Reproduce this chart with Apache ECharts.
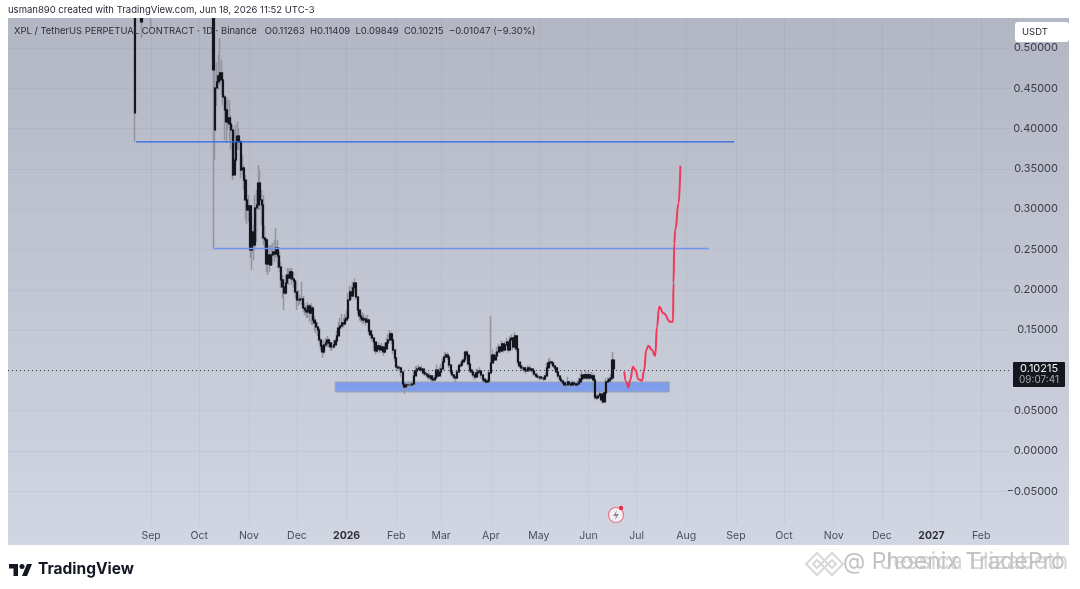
<!DOCTYPE html>
<html><head><meta charset="utf-8">
<style>html,body{margin:0;padding:0;background:#fff}#c{width:1080px;height:589px}</style>
<script src="https://cdn.jsdelivr.net/npm/echarts@6/dist/echarts.min.js"></script>
</head><body><div id="c"></div>
<script>
const FONT = 'Inter, "Noto Sans", sans-serif';
const headerText = 'usman890 created with TradingView.com, Jun 18, 2026 11:52 UTC-3';
const legendText = 'XPL / TetherUS PERPETUAL CONTRACT · 1D · Binance   O0.11263  H0.11409  L0.09849  C0.10215  −0.01047 (−9.30%)';
const monthTicks = ['2025-09-01','2025-10-01','2025-11-01','2025-12-01','2026-01-01','2026-02-01','2026-03-01','2026-04-01','2026-05-01','2026-06-01','2026-07-01','2026-08-01','2026-09-01','2026-10-01','2026-11-01','2026-12-01','2027-01-01','2027-02-01'];
const monthNames = ['Jan','Feb','Mar','Apr','May','Jun','Jul','Aug','Sep','Oct','Nov','Dec'];
const priceTicks = [-0.05,0,0.05,0.10,0.15,0.20,0.25,0.30,0.35,0.40,0.45,0.50];

// isolated candles before the main run
const earlyDates = ['2025-08-22','2025-08-26','2025-09-01'];
const earlyOpen  = [0.90,0.60,0.60];
const earlyHigh  = [0.95,0.62,0.70];
const earlyLow   = [0.3834,0.5124,0.5248];
const earlyClose = [0.4194,0.5323,0.5600];

// daily candles from 2025-10-10
const firstDay = '2025-10-10';
const firstOpen = 0.62;
const secondOpen = 0.3983;
const lastOpen = 0.11263;
const closes = [
.4727,.4504,.4578,.4653,.4690,.4603,.4392,.4231,.4082,.4132,
.4057,.3983,.3424,.3610,.3834,.3908,.3834,.3486,.3511,.3362,
.3114,.2990,.3040,.2494,.2717,.2556,.3015,.3052,.3325,.3114,
.3052,.2643,.2618,.2320,.2432,.2308,.2432,.2469,.2444,.2519,
.2419,.2283,.2122,.2035,.1960,.2084,.2184,.2146,.2221,.2134,
.2109,.1973,.1873,.1873,.1886,.1886,.1774,.1749,.1725,.1799,
.1712,.1774,.1625,.1588,.1538,.1501,.1377,.1303,.1228,.1315,
.1340,.1377,.1340,.1290,.1290,.1315,.1365,.1427,.1526,.1551,
.1588,.1576,.1625,.1650,.1873,.1973,.1923,.2022,.2084,.1911,
.1749,.1675,.1650,.1625,.1638,.1600,.1625,.1489,.1439,.1402,
.1352,.1241,.1266,.1303,.1253,.1290,.1228,.1266,.1340,.1377,
.1452,.1377,.1253,.1154,.1042,.1030,.1030,.0980,.0831,.0794,
.0819,.0819,.0819,.0819,.0831,.0931,.0993,.1017,.1030,.1005,
.1017,.0968,.0955,.0943,.0918,.0931,.0893,.0881,.0906,.1005,
.0931,.0980,.1017,.1104,.1166,.1191,.1166,.1067,.0980,.0943,
.0918,.0906,.0980,.1055,.1067,.1104,.1129,.1228,.1191,.1079,
.1005,.0980,.0943,.0918,.0968,.0980,.0993,.0943,.0893,.0869,
.0856,.0869,.0968,.1092,.1191,.1129,.1179,.1228,.1290,.1241,
.1328,.1253,.1315,.1352,.1253,.1377,.1402,.1290,.1427,.1266,
.1104,.1055,.1030,.1030,.1005,.0993,.1030,.1005,.1017,.0993,
.0955,.0931,.0918,.0918,.0906,.0906,.0893,.0931,.1030,.1092,
.1104,.1092,.1055,.1030,.0980,.0931,.0893,.0869,.0844,.0819,
.0819,.0856,.0831,.0819,.0844,.0831,.0819,.0831,.0856,.0893,
.0943,.0906,.0943,.0906,.0943,.0906,.0931,.0881,.0670,.0658,
.0682,.0707,.0633,.0608,.0720,.0856,.0869,.0893,.0906,.1129,
.10215];
const highs = [
.7000,.4851,.4826,.4913,.5124,.4851,.4702,.4417,.4355,.4380,
.4355,.4169,.4045,.3983,.4045,.4082,.4007,.3859,.3672,.3548,
.3424,.3238,.3176,.3052,.2928,.2804,.3176,.3238,.3548,.3486,
.3238,.3176,.2804,.2643,.2494,.2556,.2556,.2581,.2618,.2767,
.2618,.2469,.2345,.2184,.2122,.2184,.2270,.2270,.2270,.2270,
.2221,.2122,.2097,.1998,.1935,.2097,.1923,.1836,.1811,.1849,
.1824,.1836,.1799,.1675,.1625,.1600,.1526,.1402,.1315,.1377,
.1402,.1427,.1402,.1352,.1340,.1377,.1402,.1489,.1600,.1650,
.1700,.1650,.1700,.1750,.1960,.2050,.2050,.2100,.2140,.2030,
.1800,.1760,.1720,.1720,.1700,.1680,.1690,.1600,.1480,.1440,
.1400,.1320,.1320,.1350,.1310,.1340,.1300,.1340,.1400,.1450,
.1500,.1480,.1350,.1230,.1130,.1070,.1060,.1040,.0900,.0830,
.0850,.0845,.0850,.0860,.0870,.1000,.1050,.1060,.1070,.1050,
.1060,.1020,.1000,.0985,.0960,.0970,.0930,.0920,.0940,.1070,
.0990,.1040,.1080,.1150,.1220,.1230,.1220,.1110,.1020,.0970,
.0950,.0930,.1010,.1080,.1100,.1130,.1150,.1200,.1250,.1150,
.1060,.1020,.0985,.0950,.1020,.1020,.1040,.0985,.0930,.0890,
.0880,.0900,.1000,.1675,.1260,.1180,.1230,.1290,.1330,.1290,
.1370,.1310,.1360,.1400,.1310,.1420,.1450,.1350,.1470,.1330,
.1140,.1090,.1060,.1060,.1030,.1040,.1060,.1060,.1050,.1030,
.0985,.0960,.0950,.0940,.0930,.0930,.0920,.0970,.1090,.1140,
.1160,.1120,.1090,.1060,.1020,.0960,.0920,.0890,.0870,.0850,
.0860,.0920,.0860,.0850,.0880,.0860,.0850,.0870,.0910,.0960,
.1000,.0950,.1000,.0950,.0990,.0950,.0980,.0960,.0880,.0700,
.0710,.0740,.0700,.0640,.0780,.0900,.0910,.0920,.0950,.1228,
.11409];
const lows = [
.2519,.3610,.4280,.4479,.4541,.4417,.4293,.3859,.3821,.3983,
.3859,.3735,.3362,.3424,.3548,.3735,.3735,.3387,.3424,.3238,
.2866,.2816,.2841,.2395,.2246,.2370,.2494,.2593,.2990,.2990,
.2804,.2556,.2494,.2221,.2184,.2221,.2308,.2308,.2345,.2395,
.2270,.2221,.2022,.1898,.1749,.1935,.2097,.2060,.2122,.2060,
.2022,.1898,.1749,.1799,.1824,.1811,.1725,.1687,.1650,.1650,
.1600,.1563,.1563,.1489,.1464,.1427,.1320,.1250,.1160,.1200,
.1280,.1290,.1290,.1250,.1240,.1270,.1330,.1380,.1480,.1500,
.1520,.1530,.1570,.1600,.1720,.1900,.1880,.1940,.1960,.1880,
.1700,.1620,.1600,.1580,.1580,.1560,.1590,.1450,.1400,.1360,
.1250,.1200,.1220,.1250,.1210,.1250,.1180,.1220,.1300,.1340,
.1400,.1330,.1200,.1110,.1010,.1000,.0990,.0920,.0790,.0710,
.0790,.0800,.0800,.0800,.0800,.0900,.0960,.0990,.1000,.0980,
.0990,.0940,.0930,.0910,.0880,.0890,.0860,.0850,.0870,.0960,
.0900,.0950,.0990,.1070,.1130,.1150,.1130,.1030,.0950,.0910,
.0890,.0850,.0950,.1020,.1040,.1060,.1090,.1190,.1150,.1040,
.0970,.0950,.0910,.0880,.0900,.0940,.0960,.0900,.0860,.0840,
.0830,.0840,.0930,.1040,.1140,.1090,.1140,.1190,.1250,.1210,
.1280,.1220,.1280,.1310,.1220,.1340,.1370,.1250,.1400,.1230,
.1080,.1030,.0990,.1000,.0975,.0960,.1000,.0980,.0990,.0960,
.0930,.0910,.0900,.0890,.0880,.0880,.0870,.0900,.1000,.1060,
.1080,.1060,.1030,.1000,.0950,.0900,.0870,.0840,.0820,.0790,
.0780,.0830,.0800,.0790,.0820,.0800,.0790,.0810,.0830,.0870,
.0910,.0880,.0910,.0880,.0910,.0880,.0900,.0780,.0640,.0630,
.0650,.0680,.0610,.0590,.0680,.0830,.0840,.0870,.0880,.0880,
.09849];

// drawn levels
const upperLevel = {price:0.3834, from:'2025-08-22T14:00Z', to:'2026-08-31'};
const lowerLevel = {price:0.2512, from:'2025-10-09T16:00Z', to:'2026-08-15'};
const zone = {top:0.0856, bottom:0.0732, from:'2025-12-24T22:00Z', to:'2026-07-21T08:00Z'};
const lastPrice = 0.10215;

// hand-drawn projection: days after 2025-09-01, price
const redDays = [295.3,296.5,297.8,299,300.7,302.1,304.2,306.3,307.7,309,310.4,312.5,314.6,315.7,317.1,319.8,324,325.7,326,326.5,327.1,329.2,330.3];
const redPrices = [.0984,.0860,.0790,.0881,.1046,.1005,.0890,.0872,.1005,.1253,.1306,.1253,.1182,.1542,.1790,.1708,.1604,.1604,.2084,.2577,.2742,.3073,.3540];

const DAY = 86400000;
const t0 = Date.parse(firstDay);
const base = Date.parse('2025-09-01');
const ohlc = [];
earlyDates.forEach((d,i)=>ohlc.push([Date.parse(d),earlyOpen[i],earlyClose[i],earlyLow[i],earlyHigh[i]]));
closes.forEach((c,i)=>{
  let o = i===0 ? firstOpen : i===1 ? secondOpen : i===closes.length-1 ? lastOpen : closes[i-1];
  ohlc.push([t0+i*DAY,o,c,Math.min(lows[i],o,c),Math.max(highs[i],o,c)]);
});
const bodies = ohlc.map(r=>[r[0],r[1],r[2],Math.min(r[1],r[2]),Math.max(r[1],r[2])]);
const red = redDays.map((d,i)=>[base+d*DAY,redPrices[i]]);
const monthTimes = monthTicks.map(d=>Date.parse(d));

const chart = echarts.init(document.getElementById('c'),null,{renderer:'canvas'});
const gridColor = 'rgba(120,125,145,0.10)';
const diamond = (cx,cy,r)=>({type:'polygon',shape:{points:[[cx-r,cy],[cx,cy-r],[cx+r,cy],[cx,cy+r]]},style:{fill:'rgba(255,255,255,0)',stroke:'#d8d8d8',lineWidth:2},z:10});
chart.setOption({
  animation:false,
  backgroundColor:'#ffffff',
  textStyle:{fontFamily:FONT},
  title:[
    {text:headerText,left:3,top:0,z:30,textStyle:{fontSize:9.5,fontWeight:'normal',color:'#1f2330',fontFamily:FONT}},
    {text:legendText,left:9,top:22,z:30,textStyle:{fontSize:9.45,fontWeight:'normal',color:'#2a2e39',fontFamily:FONT}}
  ],
  grid:{left:8,right:70,top:18,bottom:65,containLabel:false},
  xAxis:{
    type:'value',
    min:Date.parse('2025-06-03T17:00Z'),
    max:Date.parse('2027-02-19'),
    axisLine:{show:false},
    axisTick:{show:false,customValues:monthTimes},
    splitLine:{show:true,lineStyle:{color:gridColor,width:1}},
    axisLabel:{
      customValues:monthTimes,
      margin:6,fontSize:10.5,color:'#4a4e5c',fontFamily:FONT,hideOverlap:false,
      formatter:v=>{const d=new Date(v);return d.getUTCMonth()===0?'{y|'+d.getUTCFullYear()+'}':monthNames[d.getUTCMonth()];},
      rich:{y:{fontWeight:'bold',fontSize:10.5,color:'#2a2e39',fontFamily:FONT}}
    }
  },
  yAxis:{
    type:'value',position:'right',
    min:-0.0906,max:0.5372,
    axisLine:{show:false},
    axisTick:{show:false,customValues:priceTicks},
    splitLine:{show:true,lineStyle:{color:gridColor,width:1}},
    axisLabel:{
      customValues:priceTicks,
      align:'right',margin:48,fontSize:11,color:'#3a3e4a',fontFamily:FONT,
      formatter:v=>(v<0?'−':'')+Math.abs(v).toFixed(5)
    }
  },
  series:[
    {name:'zone',type:'line',data:[],z:2,silent:true,
     markArea:{silent:true,itemStyle:{color:'#7e9eec',borderColor:'#a0a4b0',borderWidth:1},
       data:[[{xAxis:Date.parse(zone.from),yAxis:zone.top},{xAxis:Date.parse(zone.to),yAxis:zone.bottom}]]}},
    {name:'wicks',type:'candlestick',z:3,clip:true,barWidth:1,silent:true,data:ohlc,encode:{x:0,y:[1,2,3,4]},
     itemStyle:{color:'#92959f',color0:'#92959f',borderColor:'#92959f',borderColor0:'#92959f',borderWidth:1.5}},
    {name:'XPL',type:'candlestick',z:4,clip:true,barWidth:1.8,silent:true,data:bodies,encode:{x:0,y:[1,2,3,4]},
     itemStyle:{color:'#15171f',color0:'#15171f',borderColor:'#15171f',borderColor0:'#15171f',borderWidth:1.2},
     markLine:{silent:true,symbol:'none',label:{show:false},lineStyle:{type:[1,3],color:'#3b3e48',width:1},data:[{yAxis:lastPrice}]}},
    {name:'upper',type:'line',z:5,silent:true,symbol:'none',lineStyle:{color:'#2a66e8',width:1.3},
     data:[[Date.parse(upperLevel.from),upperLevel.price],[Date.parse(upperLevel.to),upperLevel.price]]},
    {name:'lower',type:'line',z:5,silent:true,symbol:'none',lineStyle:{color:'#6f95ee',width:1.5},
     data:[[Date.parse(lowerLevel.from),lowerLevel.price],[Date.parse(lowerLevel.to),lowerLevel.price]]},
    {name:'projection',type:'line',z:6,silent:true,symbol:'none',smooth:0.5,smoothMonotone:'x',lineStyle:{color:'#f2375a',width:2},data:red}
  ],
  graphic:[
    {type:'rect',z:-10,silent:true,shape:{x:8,y:18,width:1061,height:527},
     style:{fill:new echarts.graphic.LinearGradient(0,0,0,1,[{offset:0,color:'#b3b6c3'},{offset:1,color:'#d2d6e2'}])}},
    {type:'rect',z:15,silent:true,shape:{x:0,y:0,width:1080,height:18},style:{fill:'#ffffff'}},
    {type:'rect',z:20,shape:{x:1015,y:22,width:54,height:20,r:3},style:{fill:'#fff'}},
    {type:'text',z:21,x:1022,y:27,style:{text:'USDT',fontSize:9.5,fill:'#1f2330',fontFamily:FONT}},
    {type:'rect',z:20,shape:{x:1013,y:362,width:52,height:25,r:1},style:{fill:'#15171f'}},
    {type:'text',z:21,x:1020,y:363,style:{text:'0.10215',fontSize:11,fill:'#f2f3f6',fontFamily:FONT}},
    {type:'text',z:21,x:1019,y:375,style:{text:'09:07:41',fontSize:10,fill:'#a5a8b2',fontFamily:FONT}},
    {type:'circle',z:20,shape:{cx:616,cy:515,r:7.5},style:{fill:'#f4f0f3',stroke:'#e8758d',lineWidth:1.2}},
    {type:'polygon',z:21,shape:{points:[[617,510],[613,516],[616,516],[615,520],[619,514],[616,514]]},style:{fill:'#8a8d98'}},
    {type:'circle',z:22,shape:{cx:621,cy:508,r:2.2},style:{fill:'#f0284a'}},
    {type:'polygon',z:20,shape:{points:[[9,564],[18,564],[18,576],[13.5,576],[13.5,568.5],[9,568.5]]},style:{fill:'#131722'}},
    {type:'polygon',z:20,shape:{points:[[22,576],[27,576],[32,564],[27,564]]},style:{fill:'#131722'}},
    {type:'circle',z:20,shape:{cx:22,cy:566.5,r:2.5},style:{fill:'#131722'}},
    {type:'text',z:20,x:38,y:561,style:{text:'TradingView',fontSize:15.5,fontWeight:'bold',fill:'#131722',fontFamily:FONT}},
    diamond(817,564,11),diamond(832,564,11),diamond(817,564,4),diamond(832,564,4),
    {type:'text',z:11,x:843,y:551,style:{text:'@ Phoenix TradePro',fontSize:23,fill:'rgba(175,175,175,0.75)',fontFamily:FONT}},
    {type:'text',z:11,x:880,y:551,style:{text:'Jessica Elizabeth',fontSize:23,fill:'rgba(195,195,195,0.7)',fontFamily:FONT}}
  ]
});
</script></body></html>
